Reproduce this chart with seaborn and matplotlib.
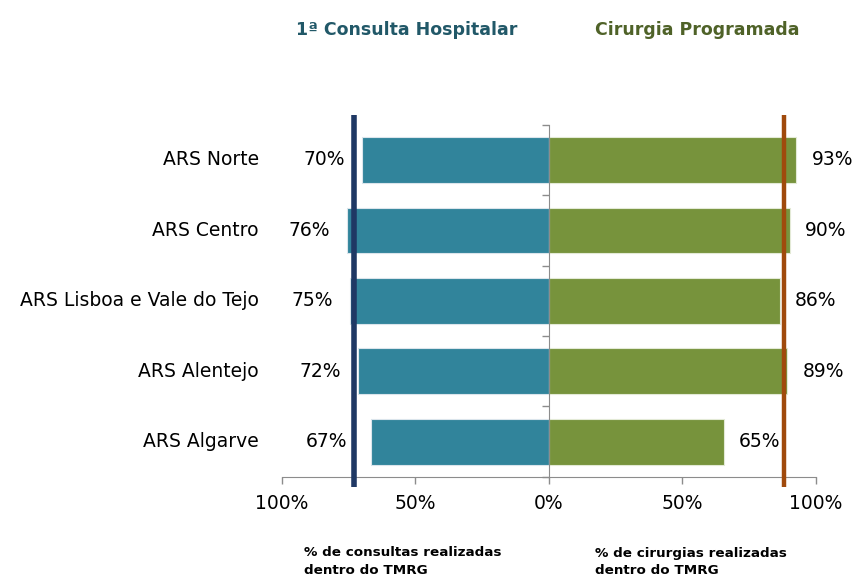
import numpy as np
import pandas as pd
import seaborn as sns
import matplotlib.pyplot as plt
from matplotlib.transforms import blended_transform_factory

# data (bar lengths, labels are rounded)
regioes = ['ARS Norte', 'ARS Centro', 'ARS Lisboa e Vale do Tejo', 'ARS Alentejo', 'ARS Algarve']
consultas = [70.0, 75.7, 74.6, 71.6, 66.6]
cirurgias = [92.7, 90.1, 86.4, 89.3, 65.4]
meta_consultas = 73
meta_cirurgias = 88
ticks = [-100, -50, 0, 50, 100]
tick_labels = ['100%', '50%', '0%', '50%', '100%']

teal = '#31849B'
green = '#77933C'
navy = '#1F3864'
brown = '#A04A0C'
axis_grey = '#8C8C8C'

sns.set_style('white')
plt.rcParams['font.family'] = ['DejaVu Sans']
plt.rcParams['text.color'] = 'black'
plt.rcParams['xtick.labelcolor'] = 'black'

df = pd.DataFrame({'regiao': regioes,
                   'consultas': [-v for v in consultas],
                   'cirurgias': cirurgias})

fig = plt.figure(figsize=(8.54, 5.83), dpi=100)
ax = fig.add_axes([0.330, 0.182, 0.6255, 0.604])

sns.barplot(data=df, x='consultas', y='regiao', color=teal, width=0.65,
            edgecolor='#dbe5ec', linewidth=0.8, saturation=1, ax=ax)
sns.barplot(data=df, x='cirurgias', y='regiao', color=green, width=0.65,
            edgecolor='#e3ead6', linewidth=0.8, saturation=1, ax=ax)

ax.set_xlim(-100, 100)
ax.set_ylim(len(regioes) - 0.5, -0.5)
ax.set_xlabel('')
ax.set_ylabel('')

# target lines stick out a little above and below the plot area
ax.axvline(-meta_consultas, ymin=-0.028, ymax=1.028, color=navy, lw=4,
           solid_capstyle='butt', clip_on=False, zorder=5)
ax.axvline(meta_cirurgias, ymin=-0.028, ymax=1.028, color=brown, lw=3.2,
           solid_capstyle='butt', clip_on=False, zorder=5)

# axes: vertical spine at zero, bottom spine grey
for s in ['top', 'right']:
    ax.spines[s].set_visible(False)
ax.spines['left'].set_position(('data', 0))
ax.spines['left'].set_color(axis_grey)
ax.spines['bottom'].set_color(axis_grey)
ax.spines['left'].set_zorder(6)

ax.set_yticks(np.arange(-0.5, len(regioes), 1.0))
ax.set_yticklabels([])
ax.tick_params(axis='y', left=True, direction='out', length=5, color=axis_grey, width=1)
ax.set_xticks(ticks)
ax.set_xticklabels(tick_labels, fontsize=13.5)
ax.tick_params(axis='x', bottom=True, direction='out', length=5, color=axis_grey, width=1, pad=7)

# region names on the left
trans = blended_transform_factory(ax.transAxes, ax.transData)
for i, r in enumerate(regioes):
    ax.text(-0.043, i, r, transform=trans, ha='right', va='center', fontsize=13.5)

# value labels (left ones kept clear of the target line)
for i, (c, s) in enumerate(zip(consultas, cirurgias)):
    x_lab = -max(c + 6.4, meta_consultas + 2.6)
    ax.text(x_lab, i, f'{c:.0f}%', ha='right', va='center', fontsize=13.5)
    ax.annotate(f'{s:.0f}%', (s, i), xytext=(11, 0), textcoords='offset points',
                ha='left', va='center', fontsize=13.5)

# headers and footers
fig.text(407 / 854, 1 - 30 / 583, '1ª Consulta Hospitalar', ha='center', va='center',
         fontsize=12.5, fontweight='bold', color='#215868')
fig.text(697 / 854, 1 - 30 / 583, 'Cirurgia Programada', ha='center', va='center',
         fontsize=12.5, fontweight='bold', color='#4F6228')
fig.text(304 / 854, 1 - 562 / 583, '% de consultas realizadas\ndentro do TMRG', ha='left',
         va='center', fontsize=9.7, fontweight='bold', linespacing=1.5)
fig.text(595 / 854, 1 - 562 / 583, '% de cirurgias realizadas\ndentro do TMRG', ha='left',
         va='center', fontsize=9.7, fontweight='bold', linespacing=1.5)

fig.savefig('out.png', dpi=100)
